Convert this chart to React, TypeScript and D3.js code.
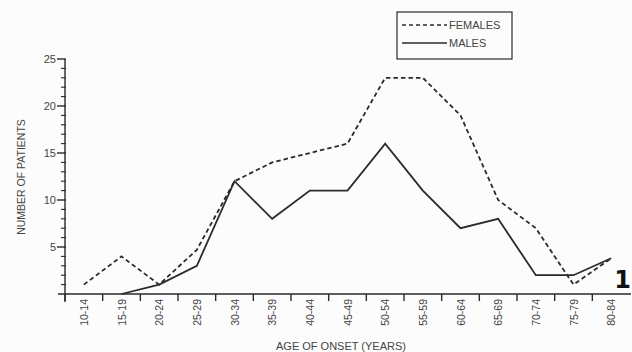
import React, { useEffect, useRef } from 'react';
import * as d3 from 'd3';

const ageGroups = ['10-14', '15-19', '20-24', '25-29', '30-34', '35-39', '40-44', '45-49', '50-54', '55-59', '60-64', '65-69', '70-74', '75-79', '80-84'];
const females = [1, 4, 1, 4.7, 12, 14, 15, 16, 23, 23, 19, 10, 7, 1, 3.8];
const males = [null, 0, 1, 3, 12, 8, 11, 11, 16, 11, 7, 8, 2, 2, 3.8];
const yTicks = [5, 10, 15, 20, 25];

const FONT = '"Liberation Sans", Arial, sans-serif';
const INK = '#2a2a2a';
const TXT = '#444';

const App = () => {
  const ref = useRef<SVGSVGElement>(null);

  useEffect(() => {
    const svg = d3.select(ref.current);
    svg.selectAll('*').remove();

    const x = d3.scaleBand<string>().domain(ageGroups).range([65, 630]).padding(0);
    const y = d3.scaleLinear().domain([0, 25]).range([294, 59]);
    const cx = (d: string) => (x(d) as number) + x.bandwidth() / 2;

    svg.append('rect').attr('width', 632).attr('height', 352).attr('fill', '#fcfcfc');

    // y axis with minor ticks
    const yAxis = svg.append('g').attr('stroke', INK).attr('stroke-width', 1.4);
    yAxis.append('line').attr('x1', 65).attr('x2', 65).attr('y1', y(25)).attr('y2', y(0) + 8);
    d3.range(1, 26).forEach(v => {
      const major = v % 5 === 0;
      yAxis.append('line')
        .attr('x1', major ? 57 : 61).attr('x2', 66)
        .attr('y1', y(v)).attr('y2', y(v))
        .attr('stroke-width', major ? 1.4 : 1.1);
    });
    svg.append('g').selectAll('text').data(yTicks).enter().append('text')
      .attr('x', 56).attr('y', d => y(d) + 4)
      .attr('text-anchor', 'end')
      .attr('font-family', FONT).attr('font-size', 11).attr('fill', TXT)
      .text(d => d);

    // x axis
    const xAxis = svg.append('g').attr('stroke', INK).attr('stroke-width', 1.4);
    xAxis.append('line').attr('x1', 58).attr('x2', 631).attr('y1', y(0)).attr('y2', y(0));
    ageGroups.forEach(g => {
      xAxis.append('line')
        .attr('x1', x(g) as number).attr('x2', x(g) as number)
        .attr('y1', y(0)).attr('y2', y(0) + 7);
    });
    svg.append('g').selectAll('text').data(ageGroups).enter().append('text')
      .attr('transform', d => `translate(${cx(d) + 4},${y(0) + 5}) rotate(-90)`)
      .attr('text-anchor', 'end')
      .attr('font-family', FONT).attr('font-size', 10.5).attr('fill', TXT)
      .text(d => d);

    // axis titles
    svg.append('text')
      .attr('transform', `translate(25,177) rotate(-90)`)
      .attr('text-anchor', 'middle')
      .attr('font-family', FONT).attr('font-size', 10.5).attr('fill', TXT)
      .text('NUMBER OF PATIENTS');
    svg.append('text')
      .attr('x', 341).attr('y', 350)
      .attr('text-anchor', 'middle')
      .attr('font-family', FONT).attr('font-size', 11).attr('fill', TXT)
      .text('AGE OF ONSET (YEARS)');

    // lines
    const line = d3.line<number | null>()
      .defined(d => d !== null)
      .x((_, i) => cx(ageGroups[i]))
      .y(d => y(d as number));

    svg.append('path').datum(females)
      .attr('fill', 'none').attr('stroke', INK).attr('stroke-width', 1.8)
      .attr('stroke-dasharray', '4.5,3')
      .attr('d', line);
    svg.append('path').datum(males)
      .attr('fill', 'none').attr('stroke', INK).attr('stroke-width', 1.8)
      .attr('d', line);

    // legend
    const lg = svg.append('g');
    lg.append('rect').attr('x', 397).attr('y', 12).attr('width', 115).attr('height', 47)
      .attr('fill', 'none').attr('stroke', INK).attr('stroke-width', 1.2);
    lg.append('line').attr('x1', 402).attr('x2', 447).attr('y1', 25).attr('y2', 25)
      .attr('stroke', INK).attr('stroke-width', 1.3).attr('stroke-dasharray', '4,3');
    lg.append('line').attr('x1', 402).attr('x2', 447).attr('y1', 43).attr('y2', 43)
      .attr('stroke', INK).attr('stroke-width', 1.3);
    lg.append('text').attr('x', 449).attr('y', 29)
      .attr('font-family', FONT).attr('font-size', 11).attr('fill', TXT).text('FEMALES');
    lg.append('text').attr('x', 449).attr('y', 47)
      .attr('font-family', FONT).attr('font-size', 11).attr('fill', TXT).text('MALES');

    // panel number
    svg.append('text').attr('x', 631).attr('y', 288).attr('text-anchor', 'end')
      .attr('font-family', '"DejaVu Sans", sans-serif').attr('font-weight', 'bold')
      .attr('font-size', 24).attr('fill', '#111').text('1');
  }, []);

  return (
    <div style={{ position: 'absolute', left: 0, top: 0 }}>
      <svg ref={ref} width={632} height={352}></svg>
    </div>
  );
};

export default App;
